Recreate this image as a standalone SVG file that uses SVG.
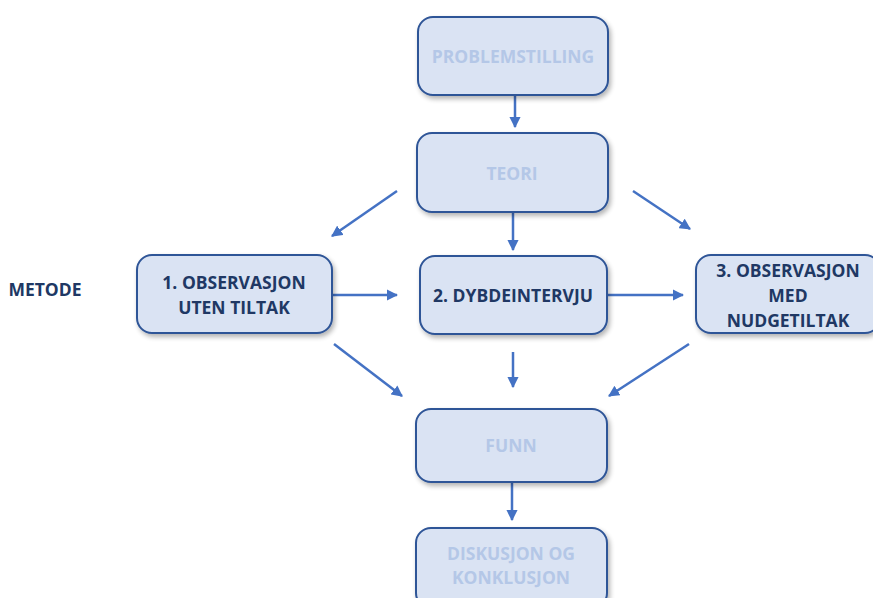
<svg xmlns="http://www.w3.org/2000/svg" width="873" height="598" viewBox="0 0 873 598">
  <defs>
    <filter id="shadow" x="-10%" y="-10%" width="125%" height="130%">
      <feGaussianBlur in="SourceAlpha" stdDeviation="2.5"/>
      <feOffset dx="2" dy="3" result="b"/>
      <feComponentTransfer><feFuncA type="linear" slope="0.3"/></feComponentTransfer>
      <feMerge><feMergeNode/><feMergeNode in="SourceGraphic"/></feMerge>
    </filter>
    <marker id="arrow" viewBox="0 0 10 10" refX="9" refY="5" markerWidth="4.5" markerHeight="4.5" orient="auto" markerUnits="strokeWidth">
      <path d="M0,0 L10,5 L0,10 z" fill="#4472c4"/>
    </marker>
  </defs>
  <style>
    .box { fill: #dae3f3; stroke: #2f5597; stroke-width: 2; filter: url(#shadow); }
    .lbl { font-family: "Open Sans", "Liberation Sans", sans-serif; font-weight: bold; font-size: 17.5px; text-anchor: middle; }
    .dark { fill: #203864; }
    .faint { fill: #b4c7e7; }
    .edge { stroke: #4472c4; stroke-width: 2.5; fill: none; marker-end: url(#arrow); }
  </style>
  <rect width="873" height="598" fill="#ffffff"/>

  <g id="connectors">
    <line class="edge" x1="515" y1="96" x2="515" y2="127"/>
    <line class="edge" x1="397" y1="191" x2="332" y2="236"/>
    <line class="edge" x1="513" y1="213" x2="513" y2="250"/>
    <line class="edge" x1="633" y1="191" x2="690" y2="229"/>
    <line class="edge" x1="332" y1="295" x2="397" y2="295"/>
    <line class="edge" x1="608" y1="295" x2="683" y2="295"/>
    <line class="edge" x1="334" y1="344" x2="402" y2="396"/>
    <line class="edge" x1="513" y1="352" x2="513" y2="387"/>
    <line class="edge" x1="689" y1="344" x2="609" y2="396"/>
    <line class="edge" x1="512" y1="483" x2="512" y2="520"/>
  </g>

  <g id="metode">
    <text class="lbl dark" x="45" y="296">METODE</text>
  </g>

  <g id="problemstilling">
    <rect class="box" x="418" y="17" width="190" height="78" rx="15"/>
    <text class="lbl faint" x="513" y="63">PROBLEMSTILLING</text>
  </g>

  <g id="teori">
    <rect class="box" x="417" y="133" width="191" height="79" rx="15"/>
    <text class="lbl faint" x="512" y="180">TEORI</text>
  </g>

  <g id="observasjon1">
    <rect class="box" x="137" y="255" width="195" height="78" rx="15"/>
    <text class="lbl dark" x="234" y="289">1. OBSERVASJON</text>
    <text class="lbl dark" x="234" y="314">UTEN TILTAK</text>
  </g>

  <g id="dybdeintervju">
    <rect class="box" x="420" y="256" width="187" height="78" rx="15"/>
    <text class="lbl dark" x="513" y="302">2. DYBDEINTERVJU</text>
  </g>

  <g id="observasjon3">
    <rect class="box" x="696" y="255" width="184" height="78" rx="15"/>
    <text class="lbl dark" x="788" y="277">3. OBSERVASJON</text>
    <text class="lbl dark" x="788" y="302">MED</text>
    <text class="lbl dark" x="788" y="327">NUDGETILTAK</text>
  </g>

  <g id="funn">
    <rect class="box" x="416" y="409" width="191" height="73" rx="15"/>
    <text class="lbl faint" x="511" y="452">FUNN</text>
  </g>

  <g id="diskusjon">
    <rect class="box" x="416" y="528" width="191" height="80" rx="15"/>
    <text class="lbl faint" x="511" y="560">DISKUSJON OG</text>
    <text class="lbl faint" x="511" y="584">KONKLUSJON</text>
  </g>
</svg>
